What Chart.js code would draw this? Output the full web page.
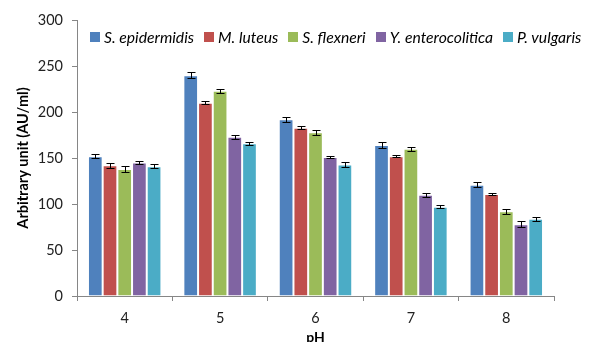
<!DOCTYPE html>
<html>
  <head>
    <script src="https://cdn.jsdelivr.net/npm/chart.js"></script>
    <style>
      body { margin: 0; background: #fff; }
      #wrap { position: relative; width: 592px; height: 342px; }
      #legend {
        position: absolute; left: 90px; top: 28px;
        display: flex; align-items: center;
        font-family: Lato, sans-serif; font-style: italic; font-size: 15.7px; color: #000;
      }
      #legend span.item { display: flex; align-items: center; margin-right: 10px; white-space: nowrap; }
      #legend span.box { width: 10px; height: 10px; margin-right: 4px; display: inline-block; }
    </style>
    <script>
      // pH categories
      const phLabels = ['4', '5', '6', '7', '8'];

      // strain names
      const strains = ['S. epidermidis', 'M. luteus', 'S. flexneri', 'Y. enterocolitica', 'P. vulgaris'];
      const colors = ['#4F81BD', '#C0504D', '#9BBB59', '#8064A2', '#4BACC6'];

      // values per strain (AU/ml)
      const sEpidermidis = [152, 240, 192, 164, 121];
      const mLuteus = [142, 210, 183, 152, 111];
      const sFlexneri = [138, 223, 178, 160, 92];
      const yEnterocolitica = [145, 173, 151, 110, 78];
      const pVulgaris = [141, 166, 143, 97, 84];

      // error (+/-) per strain
      const errEpidermidis = [2.5, 3, 2.5, 3, 2.5];
      const errLuteus = [3, 1.5, 2, 1, 1.5];
      const errFlexneri = [3, 2, 2.5, 2, 2.5];
      const errEnterocolitica = [1.5, 2, 1.5, 2.5, 3];
      const errVulgaris = [2, 1.5, 2.5, 1.5, 2];

      const values = [sEpidermidis, mLuteus, sFlexneri, yEnterocolitica, pVulgaris];
      const errors = [errEpidermidis, errLuteus, errFlexneri, errEnterocolitica, errVulgaris];

      // draws the black error bars with caps
      const errorBars = {
        id: 'errorBars',
        afterDatasetsDraw(chart) {
          const ctx = chart.ctx;
          const yScale = chart.scales.y;
          ctx.save();
          ctx.strokeStyle = '#000';
          ctx.lineWidth = 1;
          chart.data.datasets.forEach((ds, i) => {
            const meta = chart.getDatasetMeta(i);
            meta.data.forEach((bar, j) => {
              const v = ds.data[j];
              const e = ds.errors[j];
              const x = Math.round(bar.x) + 0.5;
              const top = Math.round(yScale.getPixelForValue(v + e)) + 0.5;
              const bot = Math.round(yScale.getPixelForValue(v - e)) + 0.5;
              ctx.beginPath();
              ctx.moveTo(x, top); ctx.lineTo(x, bot);
              ctx.moveTo(x - 4, top); ctx.lineTo(x + 4, top);
              ctx.moveTo(x - 4, bot); ctx.lineTo(x + 4, bot);
              ctx.stroke();
            });
          });
          ctx.restore();
        }
      };

      window.onload = function() {
        const legend = document.getElementById('legend');
        strains.forEach((s, i) => {
          const item = document.createElement('span');
          item.className = 'item';
          const box = document.createElement('span');
          box.className = 'box';
          box.style.background = colors[i];
          item.appendChild(box);
          item.appendChild(document.createTextNode(s));
          legend.appendChild(item);
        });

        const data = {
          labels: phLabels,
          datasets: strains.map((s, i) => ({
            label: s,
            data: values[i],
            errors: errors[i],
            backgroundColor: colors[i],
            borderColor: 'rgba(255,255,255,0.55)',
            borderWidth: 1,
            categoryPercentage: 0.77,
            barPercentage: 1.0
          }))
        };

        new Chart(document.getElementById('myChart'), {
          type: 'bar',
          data: data,
          plugins: [errorBars],
          options: {
            responsive: false,
            animation: false,
            layout: { padding: { left: 0, right: 38, top: 20, bottom: 0 } },
            plugins: { legend: { display: false }, tooltip: { enabled: false } },
            scales: {
              x: {
                afterFit(scale) { scale.height = 46; },
                grid: { display: true, drawOnChartArea: false, tickLength: 5, color: '#868686' },
                border: { color: '#868686', width: 1 },
                ticks: { color: '#222', padding: 9, font: { family: 'Lato, sans-serif', size: 14.5 } },
                title: { display: true, text: 'pH', color: '#000', padding: { top: 0, bottom: -4 },
                  font: { family: 'Lato, sans-serif', size: 14, weight: 'bold' } }
              },
              y: {
                min: 0, max: 300,
                afterFit(scale) { scale.width = 77; },
                grid: { display: true, drawOnChartArea: false, tickLength: 5, color: '#868686' },
                border: { color: '#868686', width: 1 },
                ticks: { stepSize: 50, color: '#222', padding: 9, font: { family: 'Lato, sans-serif', size: 14.5 } },
                title: { display: true, text: 'Arbitrary unit (AU/ml)', color: '#000', padding: { top: 15, bottom: 0 },
                  font: { family: 'Lato, sans-serif', size: 14.5, weight: 'bold' } }
              }
            }
          }
        });
      };
    </script>
  </head>
  <body>
    <div id="wrap">
      <canvas id="myChart" width="592" height="342"></canvas>
      <div id="legend"></div>
    </div>
  </body>
</html>
